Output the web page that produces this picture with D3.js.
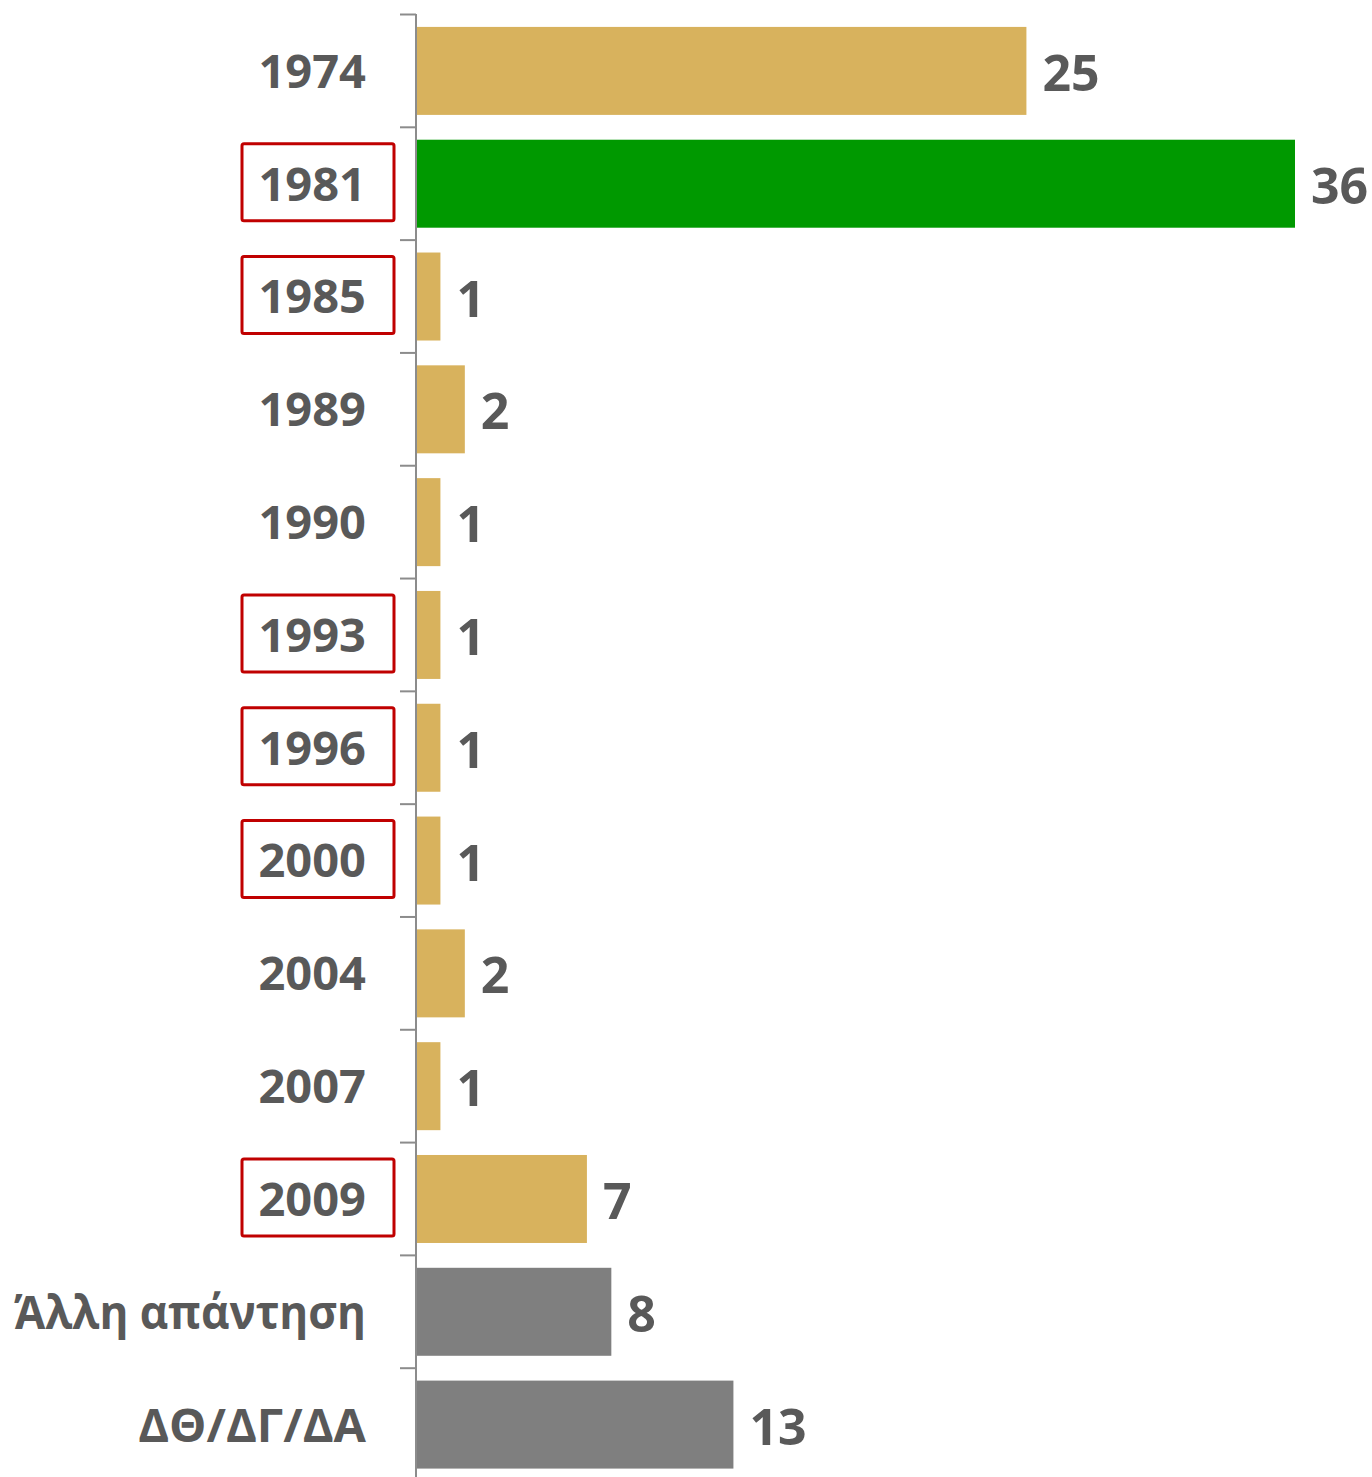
<!DOCTYPE html>
<html>
<head>
<meta charset="utf-8">
<script src="https://cdn.jsdelivr.net/npm/d3@7"></script>
<style>
  body { margin: 0; background: #fff; }
  text { font-family: "Open Sans", sans-serif; font-weight: 700; fill: #595959; }
</style>
</head>
<body>
<svg id="chart" width="1372" height="1477"></svg>
<script>
// data
const categories = ["1974", "1981", "1985", "1989", "1990", "1993", "1996", "2000", "2004", "2007", "2009", "Άλλη απάντηση", "ΔΘ/ΔΓ/ΔΑ"];
const values = [25, 36, 1, 2, 1, 1, 1, 1, 2, 1, 7, 8, 13];
const boxed = ["1981", "1985", "1993", "1996", "2000", "2009"];
const highlight = "1981";
const others = ["Άλλη απάντηση", "ΔΘ/ΔΓ/ΔΑ"];

const axisX = 416;

const svg = d3.select("#chart");

const y = d3.scaleBand()
  .domain(categories)
  .range([14.5, 1481])
  .paddingInner(0.22)
  .paddingOuter(0.11);

const x = d3.scaleLinear()
  .domain([0, 36])
  .range([axisX, 1295]);

const color = d => d === highlight ? "#009900" : (others.includes(d) ? "#7f7f7f" : "#d8b25d");

// bars
svg.selectAll(".bar")
  .data(categories)
  .enter()
  .append("rect")
  .attr("class", "bar")
  .attr("x", axisX + 1)
  .attr("y", d => y(d))
  .attr("width", (d, i) => x(values[i]) - axisX - 1)
  .attr("height", y.bandwidth())
  .attr("fill", d => color(d));

// axis line + ticks between bands
const step = y.step();
const tickYs = d3.range(categories.length + 1).map(i => 14.5 + i * step);

svg.append("line")
  .attr("x1", axisX).attr("x2", axisX)
  .attr("y1", 14).attr("y2", 1477)
  .attr("stroke", "#8c8c8c")
  .attr("stroke-width", 2);

svg.selectAll(".tick")
  .data(tickYs)
  .enter()
  .append("line")
  .attr("class", "tick")
  .attr("x1", 400).attr("x2", axisX)
  .attr("y1", d => d).attr("y2", d => d)
  .attr("stroke", "#8c8c8c")
  .attr("stroke-width", 2);

// red boxes
svg.selectAll(".box")
  .data(boxed)
  .enter()
  .append("rect")
  .attr("class", "box")
  .attr("x", 242)
  .attr("y", d => y(d) + y.bandwidth() / 2 - 40)
  .attr("width", 152)
  .attr("height", 77)
  .attr("rx", 2)
  .attr("fill", "none")
  .attr("stroke", "#c00000")
  .attr("stroke-width", 3);

// category labels
svg.selectAll(".cat")
  .data(categories)
  .enter()
  .append("text")
  .attr("class", "cat")
  .attr("x", 366)
  .attr("y", d => y(d) + y.bandwidth() / 2)
  .attr("dy", "0.36em")
  .attr("text-anchor", "end")
  .style("font-size", "47px")
  .text(d => d)
  .each(function () {
    // squeeze long labels so they fit left of the axis
    const w = this.getComputedTextLength();
    if (w > 352) {
      d3.select(this)
        .attr("textLength", 352)
        .attr("lengthAdjust", "spacingAndGlyphs");
    }
  });

// value labels
svg.selectAll(".val")
  .data(categories)
  .enter()
  .append("text")
  .attr("class", "val")
  .attr("x", (d, i) => x(values[i]) + 16)
  .attr("y", d => y(d) + y.bandwidth() / 2 + 2)
  .attr("dy", "0.36em")
  .style("font-size", "50px")
  .text((d, i) => values[i]);
</script>
</body>
</html>
